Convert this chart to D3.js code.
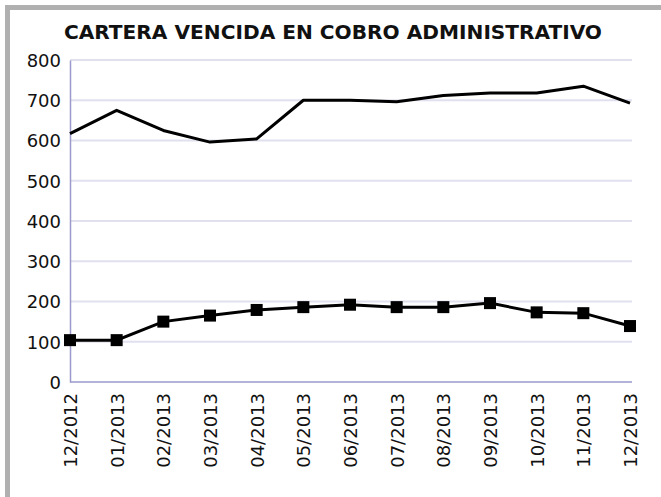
<!DOCTYPE html>
<html lang="es">
<head>
<meta charset="UTF-8" />
<script src="https://d3js.org/d3.v7.min.js"></script>
<title>Cartera vencida</title>
<style>
    body { margin: 0; background: #fff; }
    .tick-label { font-family: "DejaVu Sans", Verdana, sans-serif; font-size: 18px; fill: #111; }
    .title { font-family: "DejaVu Sans Condensed", "Liberation Sans Narrow", sans-serif; font-weight: bold; font-size: 19px; fill: #111; }
</style>
</head>
<body>
<svg id="chart" width="661" height="497"></svg>
<script>
    // data
    const months = ["12/2012", "01/2013", "02/2013", "03/2013", "04/2013", "05/2013", "06/2013",
        "07/2013", "08/2013", "09/2013", "10/2013", "11/2013", "12/2013"];
    const upperSeries = [617, 675, 625, 596, 604, 700, 700, 696, 712, 718, 718, 735, 693];
    const lowerSeries = [104, 104, 150, 165, 179, 186, 192, 186, 186, 196, 173, 171, 139];
    const yTicks = [0, 100, 200, 300, 400, 500, 600, 700, 800];

    const svg = d3.select("#chart");

    // grey frame (top and left visible)
    svg.append("rect").attr("x", 5).attr("y", 5).attr("width", 661).attr("height", 5).attr("fill", "#b0b0b0");
    svg.append("rect").attr("x", 5).attr("y", 5).attr("width", 5).attr("height", 497).attr("fill", "#b0b0b0");

    const margin = { left: 70, right: 30, top: 60, bottom: 115 };
    const x = d3.scalePoint().domain(months).range([70, 630]);
    const y = d3.scaleLinear().domain([0, 800]).range([382, 60]);

    // title
    svg.append("text")
        .attr("class", "title")
        .attr("x", 333)
        .attr("y", 39)
        .attr("text-anchor", "middle")
        .attr("textLength", 538)
        .attr("lengthAdjust", "spacingAndGlyphs")
        .text("CARTERA VENCIDA EN COBRO ADMINISTRATIVO");

    // grid
    svg.append("g")
        .selectAll("line")
        .data(yTicks.filter(d => d > 0))
        .join("line")
        .attr("x1", 70).attr("x2", 632)
        .attr("y1", d => y(d)).attr("y2", d => y(d))
        .attr("stroke", "#e0e0ee")
        .attr("stroke-width", 2);

    // y axis
    const yAxis = svg.append("g")
        .attr("transform", "translate(70,0)")
        .call(d3.axisLeft(y).tickValues(yTicks).tickSize(0).tickPadding(9));
    yAxis.select(".domain").attr("stroke", "#9a9acc").attr("stroke-width", 1.5);
    yAxis.selectAll("text").attr("class", "tick-label").attr("dy", "0.36em");

    // x axis
    const xAxis = svg.append("g")
        .attr("transform", "translate(0,382)")
        .call(d3.axisBottom(x).tickSize(0).tickPadding(0));
    xAxis.select(".domain").attr("stroke", "#9a9acc").attr("stroke-width", 1.5).attr("d", "M70,0H632");
    xAxis.selectAll("text")
        .attr("class", "tick-label")
        .attr("text-anchor", "end")
        .attr("transform", "rotate(-90)")
        .attr("x", -11)
        .attr("y", 0)
        .attr("dy", "0.36em");

    const line = d3.line()
        .x((d, i) => x(months[i]))
        .y(d => y(d));

    svg.append("path")
        .datum(upperSeries)
        .attr("fill", "none")
        .attr("stroke", "#000")
        .attr("stroke-width", 3)
        .attr("stroke-linejoin", "round")
        .attr("d", line);

    svg.append("path")
        .datum(lowerSeries)
        .attr("fill", "none")
        .attr("stroke", "#000")
        .attr("stroke-width", 3)
        .attr("d", line);

    svg.append("g")
        .selectAll("rect")
        .data(lowerSeries)
        .join("rect")
        .attr("x", (d, i) => x(months[i]) - 6)
        .attr("y", d => y(d) - 6)
        .attr("width", 12)
        .attr("height", 12)
        .attr("fill", "#000");
</script>
</body>
</html>
